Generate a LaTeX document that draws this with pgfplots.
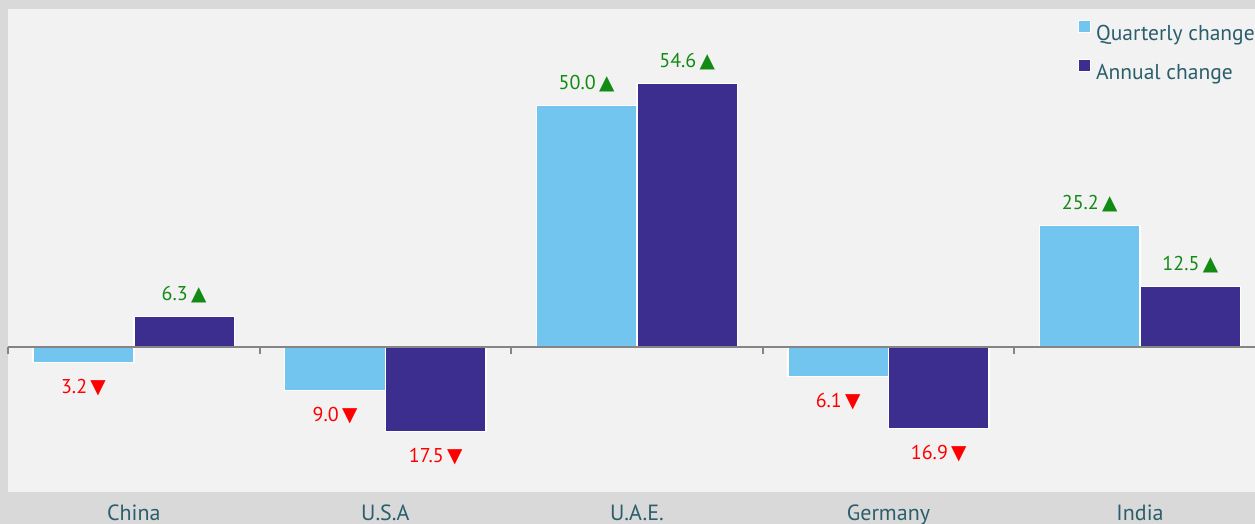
\documentclass[border=0pt]{standalone}
\usepackage{pgfplots}
\pgfplotsset{compat=1.18}
\usepackage{fontspec}
\setmainfont{PT Sans}
\newfontfamily\symfont{DejaVu Sans}
\definecolor{bgouter}{HTML}{D9D9D9}
\definecolor{bginner}{HTML}{F2F2F2}
\definecolor{qblue}{HTML}{72C5EF}
\definecolor{apurple}{HTML}{3B2E8F}
\definecolor{txt}{HTML}{2B5E6C}
\definecolor{upgreen}{HTML}{138A13}
\definecolor{dnred}{HTML}{FF0000}
\definecolor{zline}{HTML}{858585}
\newcommand{\up}[1]{\textcolor{upgreen}{#1\,{\symfont ▲}}}
\newcommand{\dn}[1]{\raisebox{-47pt}[0pt][0pt]{\textcolor{dnred}{#1\,{\symfont ▼}}}}
\begin{document}
\begin{tikzpicture}
\useasboundingbox (0,0) rectangle (1255pt,524pt);
\begin{scope}
\clip (0,0) rectangle (1255pt,524pt);
\fill[bgouter] (0,0) rectangle (1255pt,524pt);
\begin{axis}[
  at={(8pt,32pt)}, anchor=south west,
  width=1247pt, height=483pt, scale only axis,
  xmin=-0.5, xmax=4.457, ymin=-30, ymax=70,
  axis background/.style={fill=bginner},
  axis line style={draw=none},
  ybar, bar width=0.4,
  xtick={0,1,2,3,4},
  xticklabels={China,U.S.A,U.A.E.,Germany,India},
  ytick=\empty,
  major tick length=0pt,
  xticklabel style={font=\fontsize{22}{22}\selectfont, text=txt, anchor=north, inner sep=0pt, yshift=-11pt, text height=17pt, overlay},
  legend style={at={(0.858,0.978)}, anchor=north west, draw=none, fill=none, inner sep=0pt,
    font=\fontsize{21.5}{21.5}\selectfont, text=txt, row sep=14pt, overlay,
    nodes={inner sep=0pt, text height=17pt, text depth=5pt},
    /tikz/every odd column/.append style={column sep=5pt}},
  legend cell align=left,
  legend image code/.code={\draw[#1, draw=white, line width=1pt] (0pt,2pt) rectangle (12pt,14pt);},
  point meta=explicit symbolic,
  nodes near coords={\pgfplotspointmeta},
  nodes near coords align={vertical},
  every node near coord/.append style={font=\fontsize{20}{20}\selectfont, anchor=south, inner xsep=0pt, inner ysep=15pt, text height=14pt, text depth=0pt},
  clip=false,
]
\addplot[fill=qblue, draw=white, line width=1.5pt, bar shift=-0.2] coordinates {
  (0,-3.2) [\dn{3.2}]
  (1,-9.0) [\dn{9.0}]
  (2,50.0) [\up{50.0}]
  (3,-6.1) [\dn{6.1}]
  (4,25.2) [\up{25.2}]
};
\addlegendentry{Quarterly change}
\addplot[fill=apurple, draw=white, line width=1.5pt, bar shift=0.2] coordinates {
  (0,6.3) [\up{6.3}]
  (1,-17.5) [\dn{17.5}]
  (2,54.6) [\up{54.6}]
  (3,-16.9) [\dn{16.9}]
  (4,12.5) [\up{12.5}]
};
\addlegendentry{Annual change}
\draw[zline, line width=2pt] (axis cs:-0.5,0) -- (axis cs:4.457,0);
\pgfplotsinvokeforeach{-0.5,0.5,1.5,2.5,3.5}{
  \draw[zline, line width=2pt] (axis cs:#1,0) -- ++(0pt,-7pt);
}
\end{axis}
\end{scope}
\end{tikzpicture}
\end{document}
